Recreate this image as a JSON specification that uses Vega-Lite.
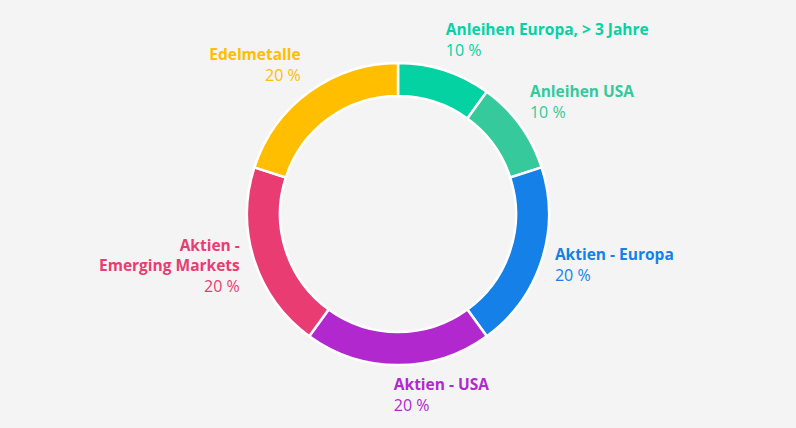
{
  "$schema": "https://vega.github.io/schema/vega-lite/v6.json",
  "width": 796,
  "height": 428,
  "autosize": {"type": "fit", "contains": "padding"},
  "padding": 0,
  "background": "#f4f4f4",
  "config": {"view": {"stroke": null}, "text": {"font": "Open Sans", "fontSize": 16}},
  "data": {
    "values": [
      {"idx": 1, "name": "Anleihen Europa, > 3 Jahre", "title": "Anleihen Europa, > 3 Jahre", "share": 10, "pct": "10 %"},
      {"idx": 2, "name": "Anleihen USA", "title": "Anleihen USA", "share": 10, "pct": "10 %"},
      {"idx": 3, "name": "Aktien - Europa", "title": "Aktien - Europa", "share": 20, "pct": "20 %"},
      {"idx": 4, "name": "Aktien - USA", "title": "Aktien - USA", "share": 20, "pct": "20 %"},
      {"idx": 5, "name": "Aktien - Emerging Markets", "title": "Aktien -\nEmerging Markets", "share": 20, "pct": "20 %"},
      {"idx": 6, "name": "Edelmetalle", "title": "Edelmetalle", "share": 20, "pct": "20 %"}
    ]
  },
  "encoding": {
    "theta": {"field": "share", "type": "quantitative", "stack": true},
    "order": {"field": "idx", "type": "quantitative"},
    "color": {
      "field": "name",
      "type": "nominal",
      "legend": null,
      "scale": {
        "domain": ["Anleihen Europa, > 3 Jahre", "Anleihen USA", "Aktien - Europa", "Aktien - USA", "Aktien - Emerging Markets", "Edelmetalle"],
        "range": ["#04d2a3", "#35c99b", "#1580e8", "#b128cf", "#e83c73", "#ffbe00"]
      }
    }
  },
  "layer": [
    {"mark": {"type": "arc", "outerRadius": 151, "innerRadius": 118, "stroke": "#ffffff", "strokeWidth": 2.5}},

    {"mark": {"type": "text", "radius": 180, "thetaOffset": -0.045, "align": "left", "baseline": "bottom", "fontWeight": "bold", "fontSize": 15.5, "lineHeight": 20, "lineBreak": "\n", "dy": -2},
     "encoding": {"text": {"field": "title"}, "opacity": {"condition": {"test": "datum.idx === 1", "value": 1}, "value": 0}}},
    {"mark": {"type": "text", "radius": 180, "thetaOffset": -0.045, "align": "left", "baseline": "top", "dy": 3},
     "encoding": {"text": {"field": "pct"}, "opacity": {"condition": {"test": "datum.idx === 1", "value": 1}, "value": 0}}},

    {"mark": {"type": "text", "radius": 173, "thetaOffset": -0.075, "align": "left", "baseline": "bottom", "fontWeight": "bold", "fontSize": 15.5, "lineHeight": 20, "lineBreak": "\n", "dy": -2},
     "encoding": {"text": {"field": "title"}, "opacity": {"condition": {"test": "datum.idx === 2", "value": 1}, "value": 0}}},
    {"mark": {"type": "text", "radius": 173, "thetaOffset": -0.075, "align": "left", "baseline": "top", "dy": 3},
     "encoding": {"text": {"field": "pct"}, "opacity": {"condition": {"test": "datum.idx === 2", "value": 1}, "value": 0}}},

    {"mark": {"type": "text", "radius": 165, "align": "left", "baseline": "bottom", "fontWeight": "bold", "fontSize": 15.5, "lineHeight": 20, "lineBreak": "\n", "dy": -2},
     "encoding": {"text": {"field": "title"}, "opacity": {"condition": {"test": "datum.idx === 3", "value": 1}, "value": 0}}},
    {"mark": {"type": "text", "radius": 165, "align": "left", "baseline": "top", "dy": 3},
     "encoding": {"text": {"field": "pct"}, "opacity": {"condition": {"test": "datum.idx === 3", "value": 1}, "value": 0}}},

    {"mark": {"type": "text", "radius": 181, "thetaOffset": 0.023, "align": "left", "baseline": "bottom", "fontWeight": "bold", "fontSize": 15.5, "lineHeight": 20, "lineBreak": "\n", "dy": -2},
     "encoding": {"text": {"field": "title"}, "opacity": {"condition": {"test": "datum.idx === 4", "value": 1}, "value": 0}}},
    {"mark": {"type": "text", "radius": 181, "thetaOffset": 0.023, "align": "left", "baseline": "top", "dy": 3},
     "encoding": {"text": {"field": "pct"}, "opacity": {"condition": {"test": "datum.idx === 4", "value": 1}, "value": 0}}},

    {"mark": {"type": "text", "radius": 170, "thetaOffset": -0.06, "align": "right", "baseline": "bottom", "fontWeight": "bold", "fontSize": 15.5, "lineHeight": 20, "lineBreak": "\n", "dy": -22},
     "encoding": {"text": {"field": "title"}, "opacity": {"condition": {"test": "datum.idx === 5", "value": 1}, "value": 0}}},
    {"mark": {"type": "text", "radius": 170, "thetaOffset": -0.06, "align": "right", "baseline": "top", "dy": 3},
     "encoding": {"text": {"field": "pct"}, "opacity": {"condition": {"test": "datum.idx === 5", "value": 1}, "value": 0}}},

    {"mark": {"type": "text", "radius": 178, "thetaOffset": 0.05, "align": "right", "baseline": "bottom", "fontWeight": "bold", "fontSize": 15.5, "lineHeight": 20, "lineBreak": "\n", "dy": -2},
     "encoding": {"text": {"field": "title"}, "opacity": {"condition": {"test": "datum.idx === 6", "value": 1}, "value": 0}}},
    {"mark": {"type": "text", "radius": 178, "thetaOffset": 0.05, "align": "right", "baseline": "top", "dy": 3},
     "encoding": {"text": {"field": "pct"}, "opacity": {"condition": {"test": "datum.idx === 6", "value": 1}, "value": 0}}}
  ]
}
